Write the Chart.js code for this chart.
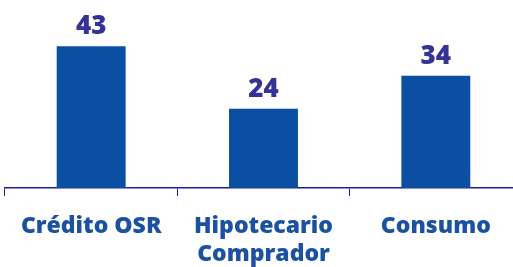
<!DOCTYPE html>
<html>
<head>
<meta charset="utf-8">
<script src="https://cdn.jsdelivr.net/npm/chart.js@4.4.1/dist/chart.umd.min.js"></script>
<style>
  html, body { margin: 0; padding: 0; background: #fff; overflow: hidden; }
  #wrap { width: 513px; height: 267px; overflow: hidden; }
</style>
</head>
<body>
<div id="wrap"><canvas id="barChart" width="522" height="284"></canvas></div>
<script>
// categorias e valores
const categorias = ['Crédito OSR', ['Hipotecario', 'Comprador'], 'Consumo'];
const valores = [43, 24, 34];

const corBarra = '#0b4fa2';
const corNumero = '#353393';
const corTexto = '#1a51a0';
const corEixo = '#1d1d96';
const fonte = "'Open Sans', sans-serif";

// plugin simples para escrever o valor em cima de cada barra
const valorNoTopo = {
    id: 'valorNoTopo',
    afterDatasetsDraw(chart) {
        const ctx = chart.ctx;
        const meta = chart.getDatasetMeta(0);
        ctx.save();
        ctx.font = "800 26px " + fonte;
        ctx.fillStyle = corNumero;
        ctx.textAlign = 'center';
        ctx.textBaseline = 'alphabetic';
        meta.data.forEach((bar, i) => {
            ctx.fillText(valores[i], bar.x, bar.y - 12);
        });
        ctx.restore();
    }
};

const ctx = document.getElementById('barChart').getContext('2d');
const myBarChart = new Chart(ctx, {
    type: 'bar',
    data: {
        labels: categorias,
        datasets: [{
            data: valores,
            backgroundColor: corBarra,
            borderWidth: 0,
            barPercentage: 1,
            categoryPercentage: 0.4
        }]
    },
    options: {
        responsive: false,
        animation: false,
        layout: { padding: { left: 5, right: 0, top: 0, bottom: 0 } },
        plugins: {
            legend: { display: false },
            tooltip: { enabled: false }
        },
        scales: {
            x: {
                grid: {
                    display: true,
                    drawOnChartArea: false,
                    drawTicks: true,
                    tickLength: 8,
                    color: corEixo,
                    lineWidth: 1
                },
                border: { display: true, color: corEixo, width: 1.5 },
                ticks: {
                    color: corTexto,
                    padding: 16,
                    font: { family: fonte, size: 23, weight: '800', lineHeight: 28 / 23 },
                    maxRotation: 0
                }
            },
            y: {
                display: false,
                min: 0,
                max: 57
            }
        }
    },
    plugins: [valorNoTopo]
});
</script>
</body>
</html>
